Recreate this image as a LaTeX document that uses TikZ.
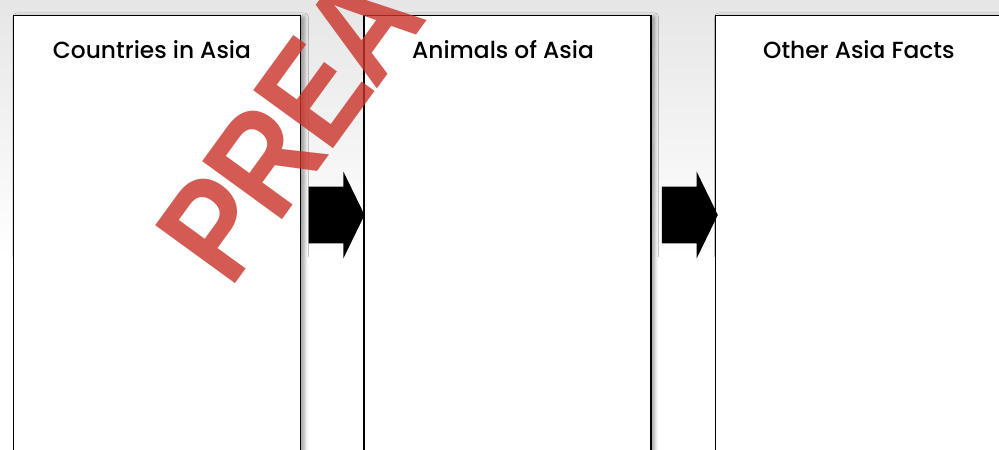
\documentclass[tikz,border=0pt]{standalone}
\usepackage{fontspec}
\setmainfont{Poppins}[UprightFont=* Medium]
\newfontfamily\markfont{Liberation Sans}[FakeStretch=0.88, LetterSpace=-3]
\usetikzlibrary{positioning, shapes.arrows, shadows.blur}
\definecolor{bgtop}{HTML}{E6E6E6}
\definecolor{markred}{RGB}{201,51,41}

\begin{document}
\begin{tikzpicture}[
    panel/.style={
      rectangle, draw=black, line width=0.9pt,
      fill=white, minimum width=7.175cm, minimum height=11.6cm,
      blur shadow={shadow xshift=2.5pt, shadow yshift=-1pt, shadow blur radius=3pt}
    },
    heading/.style={
      anchor=base, inner sep=0pt,
      font=\fontsize{16.6}{20}\selectfont
    },
    blockarrow/.style={
      single arrow, fill=black, draw=none, anchor=tail,
      inner xsep=0pt, inner ysep=0.7cm, minimum height=1.4cm,
      single arrow head extend=0.375cm, single arrow tip angle=128
    },
    watermark/.style={
      anchor=base west, inner sep=0pt, rotate=54,
      text=markred, opacity=0.8,
      font=\markfont\bfseries\fontsize{102}{110}\selectfont
    }
  ]
  % Hintergrund
  \path[use as bounding box, clip] (0,0) rectangle (24.975,11.225);
  \shade[top color=bgtop, bottom color=white] (0,4.8) rectangle (24.975,11.225);
  % Spalten
  \node[panel, anchor=north west] (countries) at (0.325,10.85) {};
  \node[panel, right=1.55cm of countries] (animals) {};
  \node[panel, right=1.58cm of animals] (facts) {};
  % Titel
  \node[heading] (tcountries) at ([xshift=-0.13cm, yshift=-1.1cm]countries.north) {Countries in Asia};
  \node[heading] (tanimals)   at ([xshift=-0.11cm, yshift=-1.1cm]animals.north)   {Animals of Asia};
  \node[heading] (tfacts)     at ([yshift=-1.1cm]facts.north)                       {Other Asia Facts};
  % Pfeile
  \node[blockarrow] (arrow1) at ([xshift=0.175cm, yshift=-5cm]countries.north east) {};
  \node[blockarrow] (arrow2) at ([xshift=0.25cm, yshift=-5cm]animals.north east) {};
  % Vorschau
  \node[watermark] (mark) at (5.75,3.95) {PREA};
\end{tikzpicture}
\end{document}
